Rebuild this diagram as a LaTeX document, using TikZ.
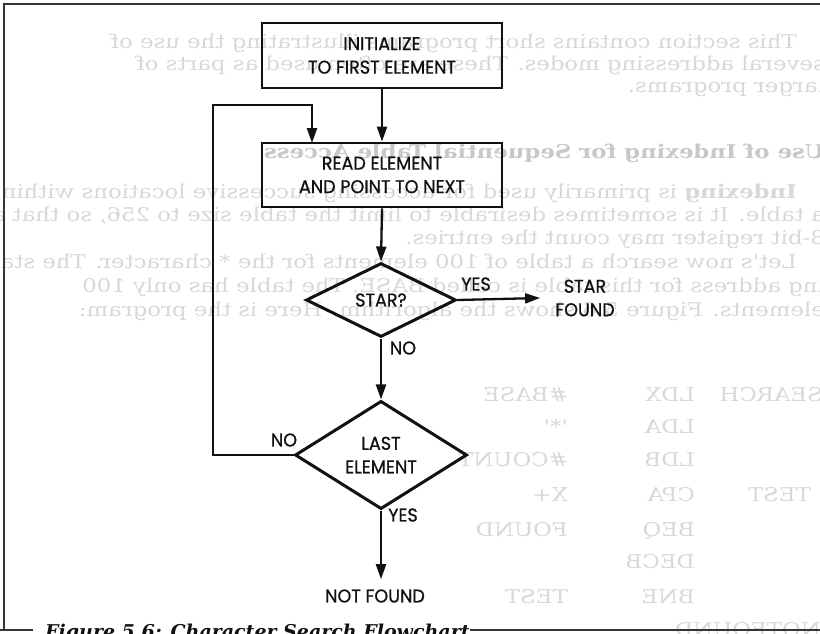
\documentclass[tikz,border=0pt]{standalone}
\usepackage{fontspec}
\setmainfont{Poppins}
\newfontfamily\chartfont[FakeStretch=0.95, FakeBold=0.8]{Poppins}
\newfontfamily\pagefont[FakeStretch=1.2]{DejaVu Serif}
\newfontfamily\captionfont{DejaVu Serif}
\usetikzlibrary{arrows.meta,shapes.geometric}
\definecolor{ink}{HTML}{111111}
\definecolor{ghost}{HTML}{D8D8D8}
\definecolor{ghostdark}{HTML}{C8C8C8}

\begin{document}
\begin{tikzpicture}[x=1pt,y=-1pt,
  chart/.style={font=\chartfont\fontsize{18.5}{23.5}\selectfont, text=ink},
  stepbox/.style={chart, draw=ink, line width=2.8pt, rectangle, minimum width=240pt,
    minimum height=65pt, inner sep=0pt, align=center},
  decision/.style={chart, draw=ink, line width=3pt, diamond, inner sep=0pt, align=center},
  flowlabel/.style={chart, inner sep=0pt},
  flow/.style={draw=ink, line width=2.3pt, -{Triangle[length=15pt,width=10pt]}},
  framerule/.style={draw=ink!85, line width=2pt},
  ghosttext/.style={font=\pagefont\fontsize{19}{22}\selectfont, text=ghost,
    anchor=base west, inner sep=0pt},
  ghostbold/.style={ghosttext, font=\pagefont\bfseries\fontsize{19}{22}\selectfont, text=ghostdark},
]
\useasboundingbox (0,0) rectangle (820,633);
\clip (0,0) rectangle (820,633);
\fill[white] (0,0) rectangle (820,633);

% text of the reverse page, showing through the paper (mirrored)
\begin{scope}[shift={(825,0)}, xscale=-1, transform shape]
  \node[ghosttext] (p1) at (28,48) {This section contains short programs illustrating the use of};
  \node[ghosttext] (p2) at (0,70) {several addressing modes. These are often used as parts of};
  \node[ghosttext] (p3) at (0,92) {larger programs.};
  \node[ghostbold] (h1) at (0,158) {Use of Indexing for Sequential Table Access};
  \node[ghosttext] (p4) at (28,198) {\textbf{Indexing} is primarily used for accessing successive locations within};
  \node[ghosttext] (p5) at (0,221) {a table. It is sometimes desirable to limit the table size to 256, so that an};
  \node[ghosttext] (p6) at (0,244) {8-bit register may count the entries.};
  \node[ghosttext] (p7) at (28,268) {Let's now search a table of 100 elements for the * character. The start-};
  \node[ghosttext] (p8) at (0,292) {ing address for this table is called BASE. The table has only 100};
  \node[ghosttext] (p9) at (0,316) {elements. Figure 5.6 shows the algorithm. Here is the program:};
  % program listing
  \node[ghosttext] (c1a) at (2,401) {SEARCH};
  \node[ghosttext] (c1b) at (130,401) {LDX};
  \node[ghosttext] (c1c) at (257,401) {\#BASE};
  \node[ghosttext] (c2b) at (130,433) {LDA};
  \node[ghosttext] (c2c) at (257,433) {'*'};
  \node[ghosttext] (c3b) at (130,466) {LDB};
  \node[ghosttext] (c3c) at (257,466) {\#COUNT};
  \node[ghosttext] (c4a) at (14,501) {TEST};
  \node[ghosttext] (c4b) at (130,501) {CPA};
  \node[ghosttext] (c4c) at (257,501) {X+};
  \node[ghosttext] (c5b) at (130,536) {BEQ};
  \node[ghosttext] (c5c) at (257,536) {FOUND};
  \node[ghosttext] (c6b) at (130,568) {DECB};
  \node[ghosttext] (c7b) at (130,603) {BNE};
  \node[ghosttext] (c7c) at (257,603) {TEST};
  \node[ghosttext] (c8a) at (4,636) {NOTFOUND};
\end{scope}

% figure frame and caption
\coordinate (ftr) at (820,4);
\coordinate (ftl) at (4,4);
\coordinate (fbl) at (4,630);
\coordinate (fbl0) at (0,630);
\coordinate (fbl1) at (33,630);
\coordinate (fbr0) at (470,630);
\coordinate (fbr1) at (820,630);
\draw[framerule] (ftr) -- (ftl) -- (fbl);
\draw[framerule] (fbl0) -- (fbl1);
\draw[framerule] (fbr0) -- (fbr1);
\node[font=\captionfont\bfseries\itshape\fontsize{19}{22}\selectfont, text=ink,
  anchor=base west, inner sep=0pt] (caption) at (45,638) {Figure 5.6: Character Search Flowchart};

% flowchart
\node[stepbox] (init) at (382,55.5) {INITIALIZE\\TO FIRST ELEMENT};
\node[stepbox, minimum height=64pt] (read) at (382,175) {READ ELEMENT\\AND POINT TO NEXT};
\node[decision, minimum width=150pt, minimum height=74pt] (star) at (381,300) {STAR?};
\node[decision, minimum width=172pt, minimum height=96pt] (last) at (381,455) {LAST\\ELEMENT};
\node[chart, align=center, inner xsep=15pt, inner ysep=0pt] (found) at (585,298) {STAR\\FOUND};
\node[chart, inner xsep=0pt, inner ysep=10pt] (notfound) at (375,596) {NOT FOUND};

\node[flowlabel] (yes1) at (476,284) {YES};
\node[flowlabel] (no1) at (403,348) {NO};
\node[flowlabel] (no2) at (284,440) {NO};
\node[flowlabel] (yes2) at (403,515) {YES};

\coordinate (looptop) at (213,105);
\coordinate (loopin) at (312,143);

\draw[flow] (init.south) -- (read.north);
\draw[flow] (read.south) -- (star.north);
\draw[flow] (star.east) -- (found.west);
\draw[flow] (star.south) -- (last.north);
\draw[flow] (last.south) -- (last.south |- notfound.north);
\draw[flow] (last.west) -| (looptop) -| (loopin);
\end{tikzpicture}
\end{document}
